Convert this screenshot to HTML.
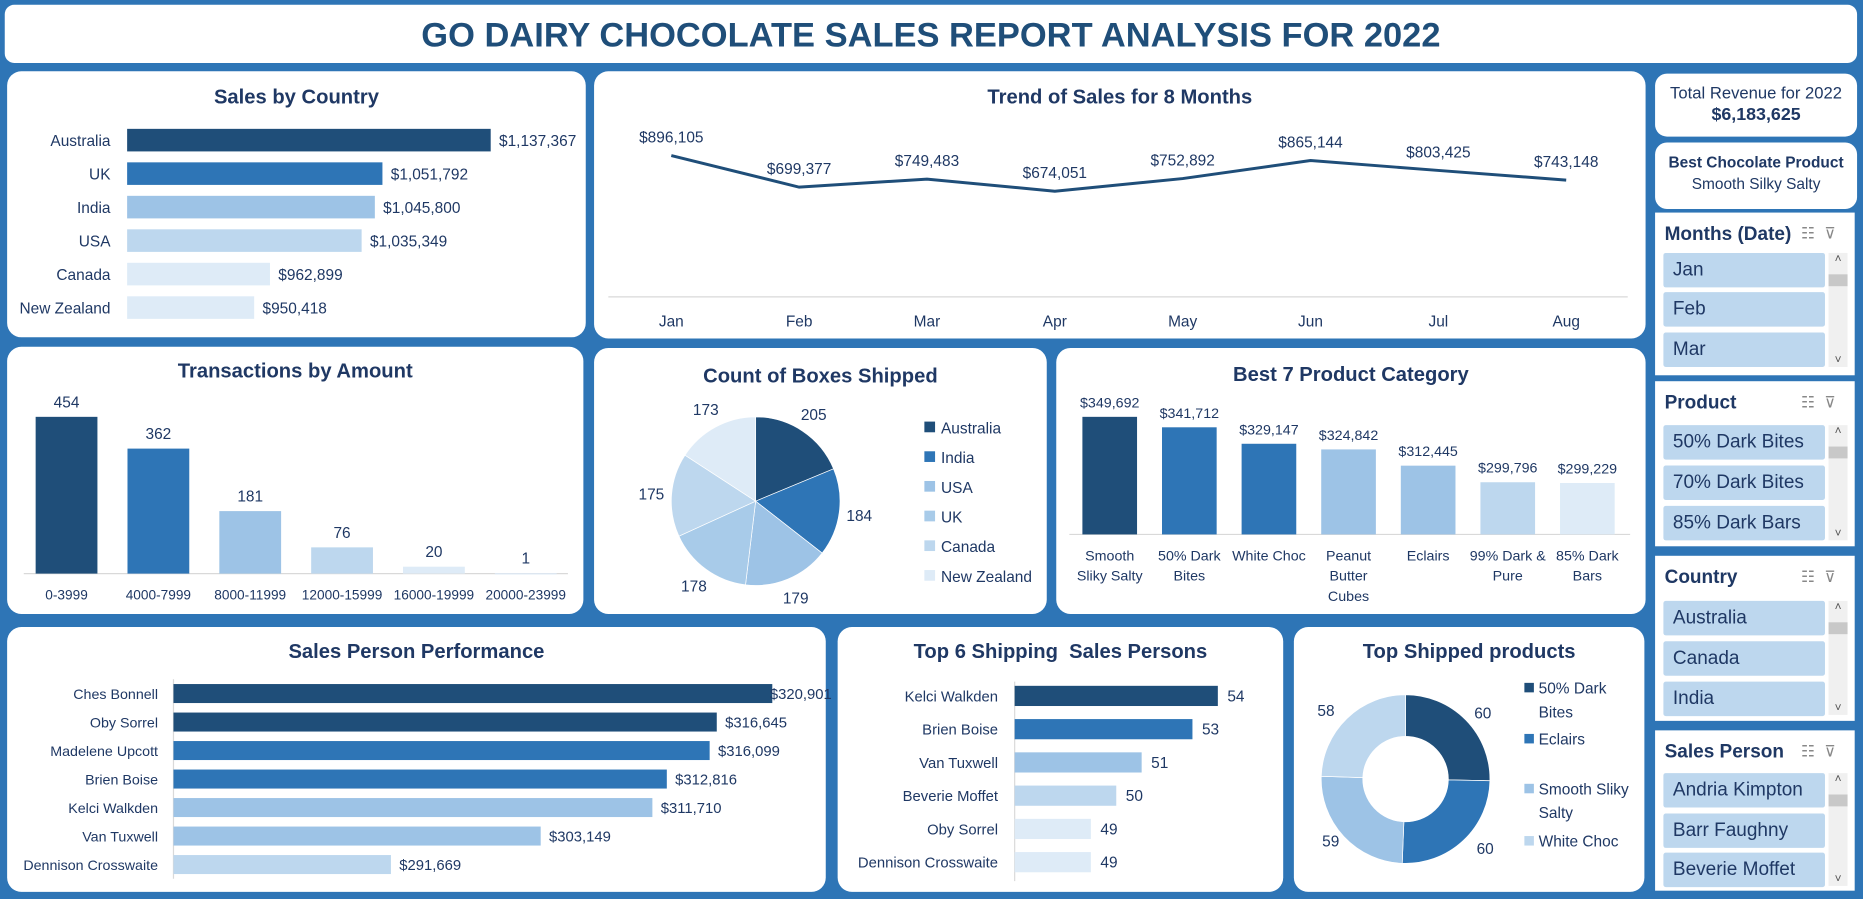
<!DOCTYPE html>
<html><head><meta charset="utf-8">
<style>
html,body{margin:0;padding:0;width:1863px;height:899px;overflow:hidden;background:#2e75b6;}
#wrap{position:absolute;left:0;top:0;width:1568px;height:757px;transform:scale(1.18814,1.18758);transform-origin:0 0;background:#2e75b6;font-family:"Liberation Sans",sans-serif;}
.panel{position:absolute;background:#fff;border-radius:12px;}
.ptitle{position:absolute;left:0;right:0;text-align:center;font-weight:bold;font-size:17px;color:#1f3864;}
.slicer{position:absolute;background:#fff;}
.stitle{position:absolute;left:8px;top:10px;font-weight:bold;font-size:16px;color:#1f3864;}
.sicons{position:absolute;right:8px;top:10px;font-size:13px;color:#888;letter-spacing:8px;}
.item{position:absolute;left:7px;width:136px;height:29px;background:#bdd7ee;border-radius:2px;font-size:16px;color:#1f3864;line-height:29px;padding-left:8px;box-sizing:border-box;}
.scroll{position:absolute;right:6px;width:16px;background:#f0f0f0;}
.scroll .thumb{position:absolute;left:0;width:16px;height:10px;top:18px;background:#c8c8c8;}
.scroll .up,.scroll .dn{position:absolute;left:0;width:16px;text-align:center;font-size:10px;color:#555;}
svg text{font-family:"Liberation Sans",sans-serif;fill:#1f3864;}
</style></head><body>
<div id="wrap">
 <div class="panel" style="left:4px;top:4px;width:1559px;height:49px;border-radius:8px;">
  <div style="text-align:center;font-weight:bold;font-size:29px;color:#1f4e79;line-height:52px;">GO DAIRY CHOCOLATE SALES REPORT ANALYSIS FOR 2022</div>
 </div>
 <div class="panel" style="left:6px;top:60px;width:487px;height:224px;"><div class="ptitle" style="top:12px">Sales by Country</div></div>
 <div class="panel" style="left:500px;top:60px;width:885px;height:225px;"><div class="ptitle" style="top:12px">Trend of Sales for 8 Months</div></div>
 <div class="panel" style="left:6px;top:292px;width:485px;height:225px;"><div class="ptitle" style="top:11px">Transactions by Amount</div></div>
 <div class="panel" style="left:500px;top:293px;width:381px;height:224px;"><div class="ptitle" style="top:14px">Count of Boxes Shipped</div></div>
 <div class="panel" style="left:889px;top:293px;width:496px;height:224px;"><div class="ptitle" style="top:13px">Best 7 Product Category</div></div>
 <div class="panel" style="left:6px;top:528px;width:689px;height:223px;"><div class="ptitle" style="top:11px">Sales Person Performance</div></div>
 <div class="panel" style="left:705px;top:528px;width:375px;height:223px;"><div class="ptitle" style="top:11px">Top 6 Shipping&nbsp; Sales Persons</div></div>
 <div class="panel" style="left:1089px;top:528px;width:295px;height:223px;"><div class="ptitle" style="top:11px">Top Shipped products</div></div>

 <div class="panel" style="left:1393px;top:62px;width:170px;height:53px;border-radius:10px;text-align:center;color:#1f3864;">
  <div style="font-size:14px;margin-top:8px;">Total Revenue for 2022</div><div style="font-size:15px;font-weight:bold;margin-top:2px;">$6,183,625</div></div>
 <div class="panel" style="left:1393px;top:120px;width:170px;height:56px;border-radius:10px;text-align:center;color:#1f3864;">
  <div style="font-size:13px;font-weight:bold;margin-top:9px;">Best Chocolate Product</div><div style="font-size:13px;margin-top:3px;">Smooth Silky Salty</div></div>

 <div class="slicer" style="left:1393px;top:179px;width:168px;height:137px;">
  <div class="stitle">Months (Date)</div><div class="sicons">☷⊽</div>
  <div class="item" style="top:34px">Jan</div>
  <div class="item" style="top:67px">Feb</div>
  <div class="item" style="top:101px">Mar</div>
  <div class="scroll" style="top:34px;height:96px"><div class="up">˄</div><div class="thumb"></div><div class="dn" style="bottom:0">˅</div></div>
 </div>
 <div class="slicer" style="left:1393px;top:321px;width:168px;height:139px;">
  <div class="stitle">Product</div><div class="sicons">☷⊽</div>
  <div class="item" style="top:37px">50% Dark Bites</div>
  <div class="item" style="top:71px">70% Dark Bites</div>
  <div class="item" style="top:105px">85% Dark Bars</div>
  <div class="scroll" style="top:37px;height:97px"><div class="up">˄</div><div class="thumb"></div><div class="dn" style="bottom:0">˅</div></div>
 </div>
 <div class="slicer" style="left:1393px;top:468px;width:168px;height:139px;">
  <div class="stitle">Country</div><div class="sicons">☷⊽</div>
  <div class="item" style="top:38px">Australia</div>
  <div class="item" style="top:72px">Canada</div>
  <div class="item" style="top:106px">India</div>
  <div class="scroll" style="top:38px;height:96px"><div class="up">˄</div><div class="thumb"></div><div class="dn" style="bottom:0">˅</div></div>
 </div>
 <div class="slicer" style="left:1393px;top:615px;width:168px;height:135px;">
  <div class="stitle">Sales Person</div><div class="sicons">☷⊽</div>
  <div class="item" style="top:36px">Andria Kimpton</div>
  <div class="item" style="top:70px">Barr Faughny</div>
  <div class="item" style="top:103px">Beverie Moffet</div>
  <div class="scroll" style="top:36px;height:95px"><div class="up">˄</div><div class="thumb"></div><div class="dn" style="bottom:0">˅</div></div>
 </div>

 <svg id="charts" width="1568" height="757" style="position:absolute;left:0;top:0;"></svg>
</div>
<script>
// ---- data ----
const countryNames = ["Australia","UK","India","USA","Canada","New Zealand"];
const countrySales = [1137367,1051792,1045800,1035349,962899,950418];
const months = ["Jan","Feb","Mar","Apr","May","Jun","Jul","Aug"];
const monthSales = [896105,699377,749483,674051,752892,865144,803425,743148];
const txnBins = ["0-3999","4000-7999","8000-11999","12000-15999","16000-19999","20000-23999"];
const txnCounts = [454,362,181,76,20,1];
const boxCountries = ["Australia","India","USA","UK","Canada","New Zealand"];
const boxCounts = [205,184,179,178,175,173];
const productNames = [["Smooth","Sliky Salty"],["50% Dark","Bites"],["White Choc"],["Peanut","Butter","Cubes"],["Eclairs"],["99% Dark &","Pure"],["85% Dark","Bars"]];
const productSales = [349692,341712,329147,324842,312445,299796,299229];
const personNames = ["Ches Bonnell","Oby Sorrel","Madelene Upcott","Brien Boise","Kelci Walkden","Van Tuxwell","Dennison Crosswaite"];
const personSales = [320901,316645,316099,312816,311710,303149,291669];
const shipNames = ["Kelci Walkden","Brien Boise","Van Tuxwell","Beverie Moffet","Oby Sorrel","Dennison Crosswaite"];
const shipCounts = [54,53,51,50,49,49];
const topProducts = ["50% Dark Bites","Eclairs","Smooth Sliky Salty","White Choc"];
const topProductCounts = [60,60,59,58];

const C1="#1f4e79",C2="#2e75b6",C3="#9dc3e6",C4="#bdd7ee",C5="#deebf7";
const svg=document.getElementById('charts');
const NS="http://www.w3.org/2000/svg";
function mk(tag,attrs,name,parent){const e=document.createElementNS(NS,tag);for(const k in attrs)e.setAttribute(k,attrs[k]);


(parent||svg).appendChild(e);return e;}
function txt(x,y,s,name,size,anchor){const t=mk('text',{x:x,y:y,'font-size':size||13,'text-anchor':anchor||'start'},name);t.textContent=s;return t;}
const money=v=>'$'+v.toLocaleString('en-US');

// Sales by country
{const x0=107,vmin=850000,sc=306/(1137367-850000);const cols=[C1,C2,C3,C4,C5,C5];
const X=v=>x0+(v-vmin)*sc;
countryNames.forEach((n,i)=>{const y=118+i*28.2;
mk('rect',{x:x0,y:y-9.5,width:X(countrySales[i])-x0,height:19,fill:cols[i]},'country-bar-'+i);
txt(93,y+5,n,'country-label-'+i,13,'end');
txt(X(countrySales[i])+7,y+5,money(countrySales[i]),'country-value-'+i,13);});}

// Trend line
{const X=i=>565+i*107.6,Y=v=>161-(v-674051)*(30/222054);
mk('line',{x1:512,y1:250,x2:1370,y2:250,stroke:"#d9d9d9"},'trend-x-axis');
let d=monthSales.map((v,i)=>(i?'L':'M')+X(i)+','+Y(v)).join(' ');
mk('path',{d:d,fill:'none',stroke:C1,'stroke-width':2.5},'trend-line');
months.forEach((m,i)=>{txt(X(i),275,m,'trend-month-'+i,13,'middle');
txt(X(i),Y(monthSales[i])-11,money(monthSales[i]),'trend-value-'+i,13,'middle');});}

// Transactions
{const base=483,sc=132/454;const cols=[C1,C2,C3,C4,C5,C5];
mk('line',{x1:20,y1:base,x2:478,y2:base,stroke:"#d9d9d9"},'txn-x-axis');
txnBins.forEach((b,i)=>{const cx=56+i*77.3,h=txnCounts[i]*sc;
mk('rect',{x:cx-26,y:base-h,width:52,height:Math.max(h,1),fill:cols[i]},'txn-bar-'+i);
txt(cx,base-h-8,String(txnCounts[i]),'txn-value-'+i,13,'middle');
txt(cx,505,b,'txn-label-'+i,11.5,'middle');});}

// Pie
{const cx=636,cy=422,r=71;const cols=[C1,C2,C3,"#a8cbe9",C4,C5];const tot=boxCounts.reduce((a,b)=>a+b,0);
let a=-Math.PI/2;
boxCounts.forEach((v,i)=>{const a2=a+v/tot*2*Math.PI;
const p=`M${cx},${cy} L${cx+r*Math.cos(a)},${cy+r*Math.sin(a)} A${r},${r} 0 0 1 ${cx+r*Math.cos(a2)},${cy+r*Math.sin(a2)} Z`;
mk('path',{d:p,fill:cols[i],stroke:'#fff','stroke-width':0.6},'pie-slice-'+i);
const m=(a+a2)/2;txt(cx+(r+17)*Math.cos(m),cy+(r+17)*Math.sin(m)+5,String(v),'pie-label-'+i,13,'middle');a=a2;});
boxCountries.forEach((n,i)=>{const y=360+i*25;mk('rect',{x:778,y:y-5,width:9,height:9,fill:cols[i]},'pie-legend-swatch-'+i);
txt(792,y+5,n,'pie-legend-'+i,13);});}

// Best 7
{const base=450,vmin=260000,sc=99/(349692-260000);const cols=[C1,C2,C2,C3,C3,C4,C5];
mk('line',{x1:900,y1:base,x2:1372,y2:base,stroke:"#d9d9d9"},'best7-x-axis');
productSales.forEach((v,i)=>{const cx=934+i*67,h=(v-vmin)*sc;
mk('rect',{x:cx-23,y:base-h,width:46,height:h,fill:cols[i]},'best7-bar-'+i);
txt(cx,base-h-8,money(v),'best7-value-'+i,12,'middle');
productNames[i].forEach((l,j)=>txt(cx,472+j*17,l,'best7-label-'+i+'-'+j,12,'middle'));});}

// Sales person
{const x0=146,vmin=275000,sc=504/(320901-275000);const cols=[C1,C1,C2,C2,C3,C3,C4];
mk('line',{x1:x0,y1:572,x2:x0,y2:740,stroke:"#d9d9d9"},'person-y-axis');
personNames.forEach((n,i)=>{const y=584+i*24,w=(personSales[i]-vmin)*sc;
mk('rect',{x:x0,y:y-8,width:w,height:16,fill:cols[i]},'person-bar-'+i);
txt(133,y+4.5,n,'person-label-'+i,12,'end');
txt(x0+w+(i==0?-2:7),y+4.5,money(personSales[i]),'person-value-'+i,12.5);});}

// Top 6 shipping
{const x0=854,vmin=46,sc=171/8;const cols=[C1,C2,C3,C4,C5,C5];
mk('line',{x1:x0,y1:574,x2:x0,y2:742,stroke:"#d9d9d9"},'ship-y-axis');
shipNames.forEach((n,i)=>{const y=586+i*28,w=(shipCounts[i]-vmin)*sc;
mk('rect',{x:x0,y:y-8.5,width:w,height:17,fill:cols[i]},'ship-bar-'+i);
txt(840,y+4.5,n,'ship-label-'+i,12.5,'end');
txt(x0+w+8,y+4.5,String(shipCounts[i]),'ship-value-'+i,13);});}

// Donut
{const cx=1183,cy=656,R=71,r0=36;const cols=[C1,C2,C3,C4];const tot=topProductCounts.reduce((a,b)=>a+b,0);
let a=-Math.PI/2;
const lp=[[1248,600],[1250,714],[1120,708],[1116,598]];
topProductCounts.forEach((v,i)=>{const a2=a+v/tot*2*Math.PI;
const P=(rr,t)=>(cx+rr*Math.cos(t))+','+(cy+rr*Math.sin(t));
const d=`M${P(R,a)} A${R},${R} 0 0 1 ${P(R,a2)} L${P(r0,a2)} A${r0},${r0} 0 0 0 ${P(r0,a)} Z`;
mk('path',{d:d,fill:cols[i],stroke:'#fff','stroke-width':0.6},'donut-slice-'+i);
txt(lp[i][0],lp[i][1]+5,String(v),'donut-label-'+i,13,'middle');a=a2;});
const leg=[[585,["50% Dark","Bites"]],[628,["Eclairs"]],[670,["Smooth Sliky","Salty"]],[714,["White Choc"]]];
leg.forEach((l,i)=>{mk('rect',{x:1283,y:l[0]-10,width:8,height:8,fill:cols[i]},'donut-legend-swatch-'+i);
l[1].forEach((s,j)=>txt(1295,l[0]-1+j*20,s,'donut-legend-'+i+'-'+j,13));});}
</script>
</body></html>
